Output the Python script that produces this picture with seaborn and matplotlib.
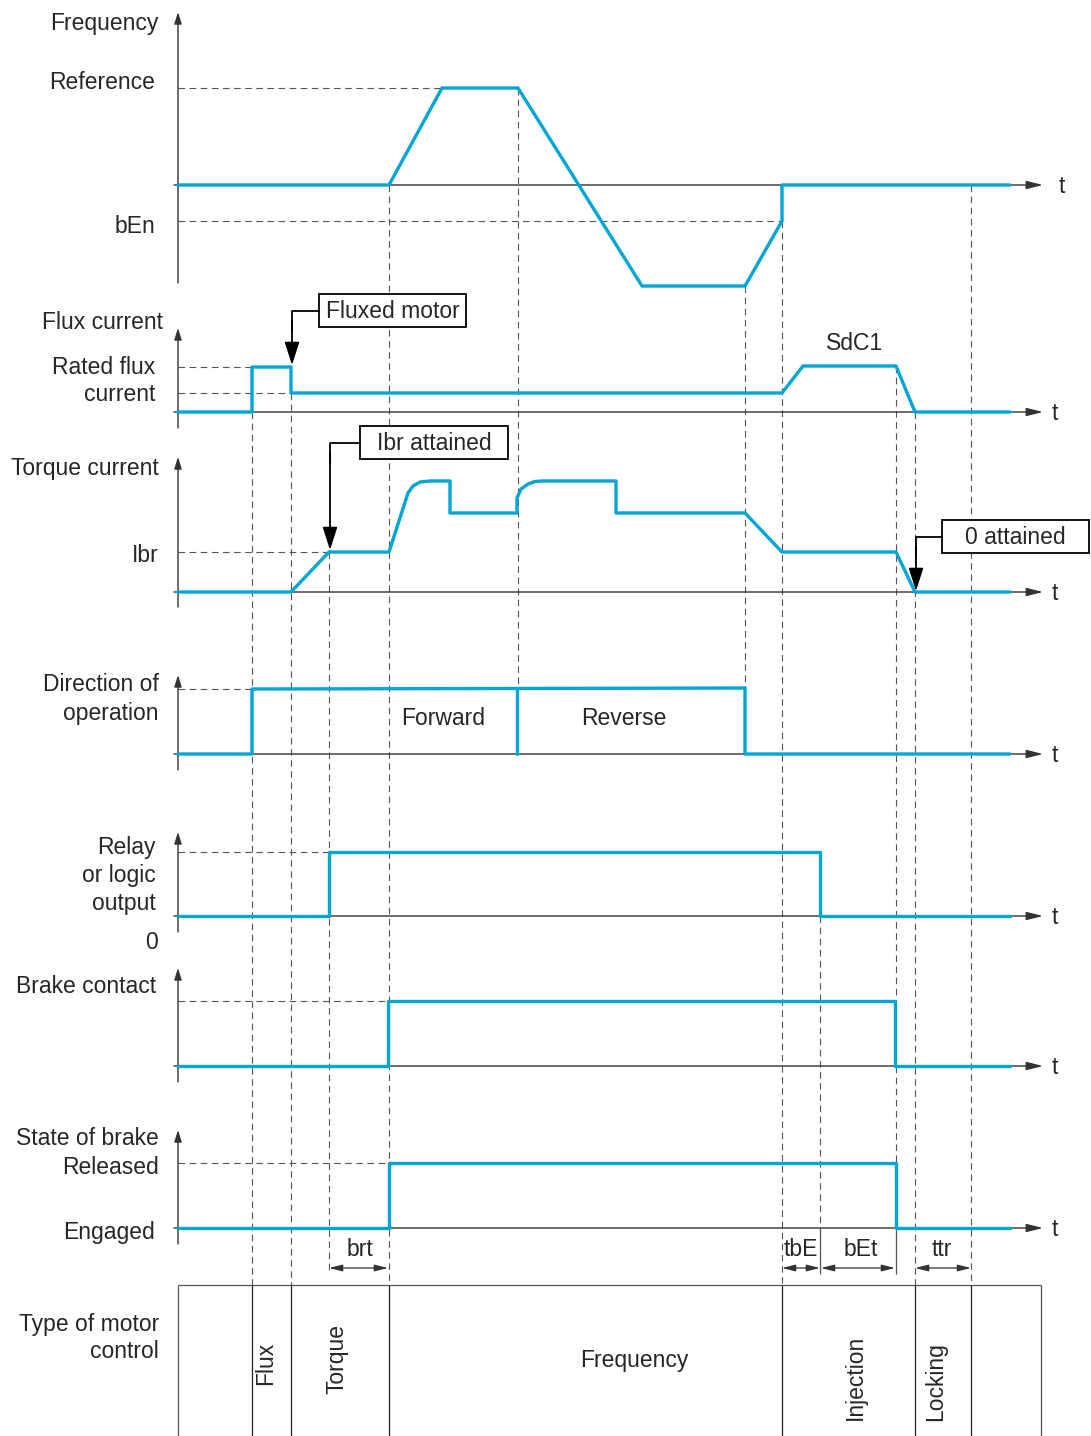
import matplotlib
matplotlib.use("Agg")
import matplotlib.pyplot as plt
import seaborn as sns
import pandas as pd

sns.set_theme(style="white")
plt.rcParams['font.family'] = ['Liberation Sans', 'DejaVu Sans']

BLUE = "#00A6D6"
GRAY = "#555555"
DARK = "#333333"

# ---- time markers (horizontal position in the diagram) ----
T_FLUX = 252
T_FLUXED = 291
T_IBR = 329
T_BRT = 389
T_REV = 518
T_REVEND = 745
T_BEN = 782
T_TBE = 820
T_BET = 896
T_ZERO = 915
T_TTR = 971
T_END = 1010
X0 = 178

# ---- signals: (time, level) ----
freq_t = [X0, 389, 442, 518, 642, 745, 782, 782, T_END]
freq_v = [185, 185, 88, 88, 286, 286, 221, 185, 185]

flux_t = [X0, 252, 252, 291, 291, 782, 803, 896, 915, T_END]
flux_v = [412, 412, 367, 367, 393, 393, 366, 366, 412, 412]

torque_t = [X0, 291, 329, 389, 408, 413, 420, 430, 450, 450, 517, 517, 521, 528, 535, 542, 616, 616, 745, 782, 896, 915, T_END]
torque_v = [592, 592, 552, 552, 493, 486, 482, 481, 481, 513, 513, 498, 489, 484, 481.5, 481, 481, 513, 513, 552, 552, 592, 592]

dir_t = [X0, 252, 252, 745, 745, T_END]
dir_v = [754, 754, 689, 688, 754, 754]
divider_t = [517, 517]
divider_v = [689, 754]

relay_t = [X0, 329, 329, 820, 820, T_END]
relay_v = [916, 916, 852, 852, 916, 916]

contact_t = [X0, 388, 388, 895, 895, T_END]
contact_v = [1066, 1066, 1001, 1001, 1066, 1066]

state_t = [X0, 389, 389, 896, 896, T_END]
state_v = [1228, 1228, 1163, 1163, 1228, 1228]

signals = {
    "freq": (freq_t, freq_v), "flux": (flux_t, flux_v), "torque": (torque_t, torque_v),
    "dir": (dir_t, dir_v), "divider": (divider_t, divider_v), "relay": (relay_t, relay_v),
    "contact": (contact_t, contact_v), "state": (state_t, state_v),
}
rows = []
for name, (ts, vs) in signals.items():
    for i, (t, v) in enumerate(zip(ts, vs)):
        rows.append({"signal": name, "order": i, "t": t, "v": v})
df = pd.DataFrame(rows)

fig = plt.figure(figsize=(10.91, 14.36), dpi=100)
ax = fig.add_axes([0, 0, 1, 1])
ax.set_xlim(0, 1091)
ax.set_ylim(1436, 0)
ax.axis("off")

fs = 16.5
DY = 1.5  # small vertical text offset

# ---- axes of each panel ----
baselines = [185, 412, 592, 754, 916, 1066, 1228]
vaxes = [(283, 12), (428, 328), (607, 457), (770, 675), (932, 832), (1082, 968), (1244, 1130)]
for (yb, yt) in vaxes:
    ax.annotate("", xy=(X0, yt), xytext=(X0, yb),
                arrowprops=dict(arrowstyle="-|>,head_length=0.7,head_width=0.22", color=DARK, lw=1,
                                mutation_scale=10, shrinkA=0, shrinkB=0), zorder=2)
for yb in baselines:
    ax.annotate("", xy=(1043, yb), xytext=(174, yb),
                arrowprops=dict(arrowstyle="-|>,head_length=1.0,head_width=0.25", color=DARK, lw=1,
                                mutation_scale=10, shrinkA=0, shrinkB=0), zorder=2)
    ax.text(1062 if yb == 185 else 1055, yb + DY, "t", fontsize=fs, ha="center", va="center")

# ---- dashed guides ----
dash = dict(color=GRAY, lw=0.8, linestyles=(0, (6, 4)), zorder=1)
hguides = [(88, X0, 442), (221, X0, 782), (367, X0, 252), (393, X0, 291), (552, X0, 329),
           (689, X0, 252), (852, X0, 329), (1001, X0, 388), (1163, X0, 389)]
for y, a, b in hguides:
    ax.hlines(y, a, b, **dash)
vguides = [(T_FLUX, 412, 1285), (T_FLUXED, 393, 1285), (T_IBR, 552, 1270), (T_BRT, 185, 1285),
           (T_REV, 88, 689), (T_REVEND, 286, 689), (T_BEN, 221, 1285), (T_TBE, 916, 1228),
           (T_BET, 366, 1001), (T_BET, 1066, 1163), (T_ZERO, 412, 1285), (T_TTR, 185, 1285)]
for x, a, b in vguides:
    ax.vlines(x, a, b, **dash)
ax.vlines([T_TBE, T_BET], 1228, 1274, color=GRAY, lw=0.9)

# ---- table of motor control ----
ax.hlines(1285, X0, 1041, color=GRAY, lw=0.9)
ax.vlines([X0, 1041], 1285, 1436, color=GRAY, lw=0.9)
ax.vlines([T_FLUX, T_FLUXED, T_BRT, T_BEN, T_ZERO, T_TTR], 1285, 1436, color="#222222", lw=0.9)

# ---- signals ----
sns.lineplot(data=df, x="t", y="v", units="signal", estimator=None, sort=False,
             color=BLUE, lw=2.4, ax=ax, legend=False, zorder=4)
ax.set_xlim(0, 1091)
ax.set_ylim(1436, 0)
ax.axis("off")

# ---- dimension arrows ----
for a, b in [(329, 388), (782, 820), (821, 895), (915, 971)]:
    ax.annotate("", xy=(b, 1268), xytext=(a, 1268),
                arrowprops=dict(arrowstyle="<|-|>,head_length=0.8,head_width=0.2", color=DARK, lw=0.9,
                                mutation_scale=10, shrinkA=0, shrinkB=0))
for x, s in [(360, "brt"), (801, "tbE"), (861, "bEt"), (942, "ttr")]:
    ax.text(x, 1248 + DY, s, fontsize=fs, ha="center", va="center")

# ---- callouts ----
def callout(text, bx0, bx1, by0, by1, ax_x, tip_y):
    ym = (by0 + by1) / 2
    ax.add_patch(plt.Rectangle((bx0, by0), bx1 - bx0, by1 - by0, fc="white", ec="black", lw=1.3, zorder=6))
    ax.text((bx0 + bx1) / 2, ym + DY, text, fontsize=fs, ha="center", va="center", zorder=7)
    ax.plot([bx0, ax_x, ax_x], [ym, ym, ym + 20], color="black", lw=1.3, zorder=6)
    ax.annotate("", xy=(ax_x, tip_y), xytext=(ax_x, ym + 10),
                arrowprops=dict(arrowstyle="-|>,head_length=1.4,head_width=0.45", color="black", lw=1.3,
                                mutation_scale=10, shrinkA=0, shrinkB=0), zorder=6)

callout("Fluxed motor", 319, 466, 294, 327, 292, 365)
callout("Ibr attained", 360, 508, 426, 459, 330, 550)
callout("0 attained", 942, 1089, 520, 553, 916, 591)

# ---- texts ----
labels = [
    ("Frequency", 159, 22), ("Reference", 155, 81), ("bEn", 155, 225),
    ("Flux current", 163, 321), ("Rated flux", 155, 366), ("current", 155, 393),
    ("Torque current", 159, 467), ("Ibr", 159, 554),
    ("Direction of", 159, 683), ("operation", 159, 712),
    ("Relay", 156, 846), ("or logic", 156, 874), ("output", 156, 902), ("0", 158, 941),
    ("Brake contact", 156, 985),
    ("State of brake", 159, 1137), ("Released", 159, 1166), ("Engaged", 155, 1231),
    ("Type of motor", 159, 1323), ("control", 159, 1350),
]
for s, x, y in labels:
    ax.text(x, y + DY, s, fontsize=fs, ha="right", va="center")

ax.text(855, 342 + DY, "SdC1", fontsize=fs, ha="center", va="center")
ax.text(443, 717 + DY, "Forward", fontsize=fs, ha="center", va="center")
ax.text(624, 717 + DY, "Reverse", fontsize=fs, ha="center", va="center")
ax.text(634, 1359 + DY, "Frequency", fontsize=fs, ha="center", va="center")
for s, x, y in [("Flux", 266, 1363), ("Torque", 337, 1359), ("Injection", 855, 1377), ("Locking", 936, 1382)]:
    ax.text(x, y, s, fontsize=fs, ha="center", va="center", rotation=90)

fig.savefig("out.png", dpi=100)
